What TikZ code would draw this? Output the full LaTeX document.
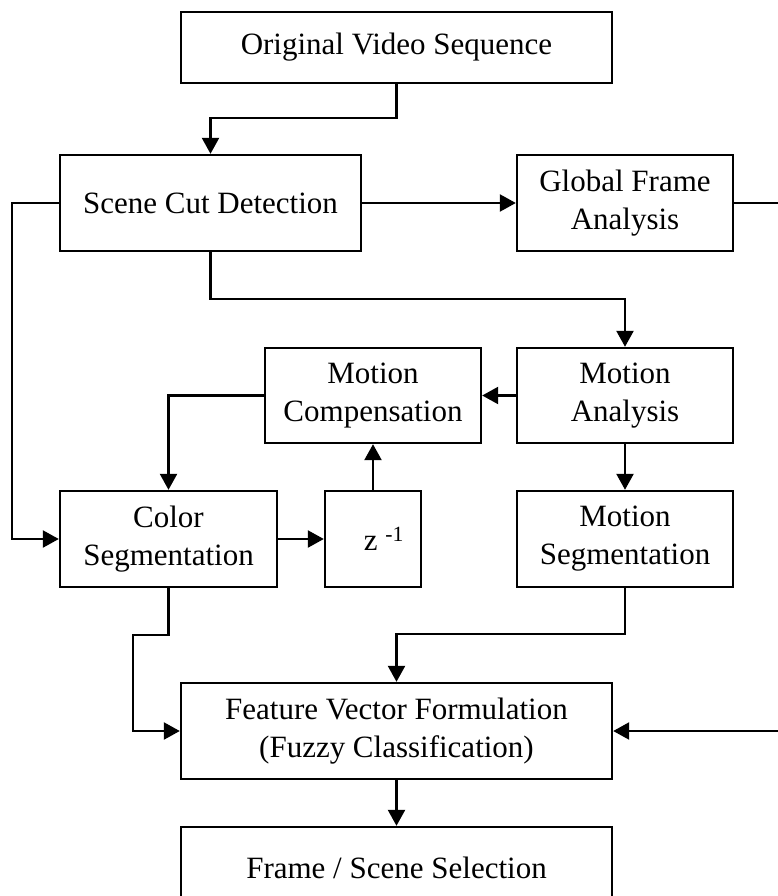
\documentclass[tikz,border=0pt]{standalone}
\usepackage{fontspec}
\setmainfont{Liberation Serif}
\usetikzlibrary{arrows.meta,calc}
\begin{document}
\begin{tikzpicture}[x=1pt,y=-1pt,
  blk/.style={draw,line width=2.4pt,inner sep=0pt,align=center,
    font=\fontsize{31}{38}\selectfont},
  arr/.style={line width=2.4pt,-{Triangle[length=16pt,width=17pt]}}]
\useasboundingbox (0,0) rectangle (778,896);
\node[blk,minimum width=431pt,minimum height=71pt] (ovs) at (396.5,47.5) {Original Video Sequence};
\node[blk,minimum width=301pt,minimum height=96pt] (scd) at (210.5,203) {Scene Cut Detection};
\node[blk,minimum width=216pt,minimum height=96pt] (gfa) at (625,203) {Global Frame\\Analysis};
\node[blk,minimum width=216pt,minimum height=95pt] (mc) at (373,395.5) {Motion\\Compensation};
\node[blk,minimum width=216pt,minimum height=95pt] (ma) at (625,395.5) {Motion\\Analysis};
\node[blk,minimum width=217pt,minimum height=96pt] (cs) at (168.5,539) {Color\\Segmentation};
\node[blk,minimum width=96pt,minimum height=96pt] (z) at (373,539) {\hspace*{22pt}z \textsuperscript{-1}};
\node[blk,minimum width=216pt,minimum height=96pt] (ms) at (625,539) {Motion\\Segmentation};
\node[blk,minimum width=431pt,minimum height=96pt] (fvf) at (396.5,731) {Feature Vector Formulation\\(Fuzzy Classification)};
\node[blk,minimum width=431pt,minimum height=82pt] (fss) at (396.5,868) {Frame / Scene Selection};
\coordinate (rgt) at (781,203);
% connectors
\draw[arr] (ovs.south) |- ($(scd.north)+(0,-36)$) -- (scd.north);
\draw[arr] (scd.east) -- (gfa.west);
\draw[arr] (gfa.east) -- (rgt) |- (fvf.east);
\draw[arr] (scd.west) -- (12,203) |- (cs.west);
\draw[arr] (scd.south) |- ($(ma.north)+(0,-48)$) -- (ma.north);
\draw[arr] (ma.west) -- (mc.east);
\draw[arr] (mc.west) -| (cs.north);
\draw[arr] (cs.east) -- (z.west);
\draw[arr] (z.north) -- (mc.south);
\draw[arr] (ma.south) -- (ms.north);
\draw[arr] (ms.south) |- ($(fvf.north)+(0,-48)$) -- (fvf.north);
\draw[arr] (cs.south) |- (133,635) |- (fvf.west);
\draw[arr] (fvf.south) -- (fss.north);
\end{tikzpicture}
\end{document}
